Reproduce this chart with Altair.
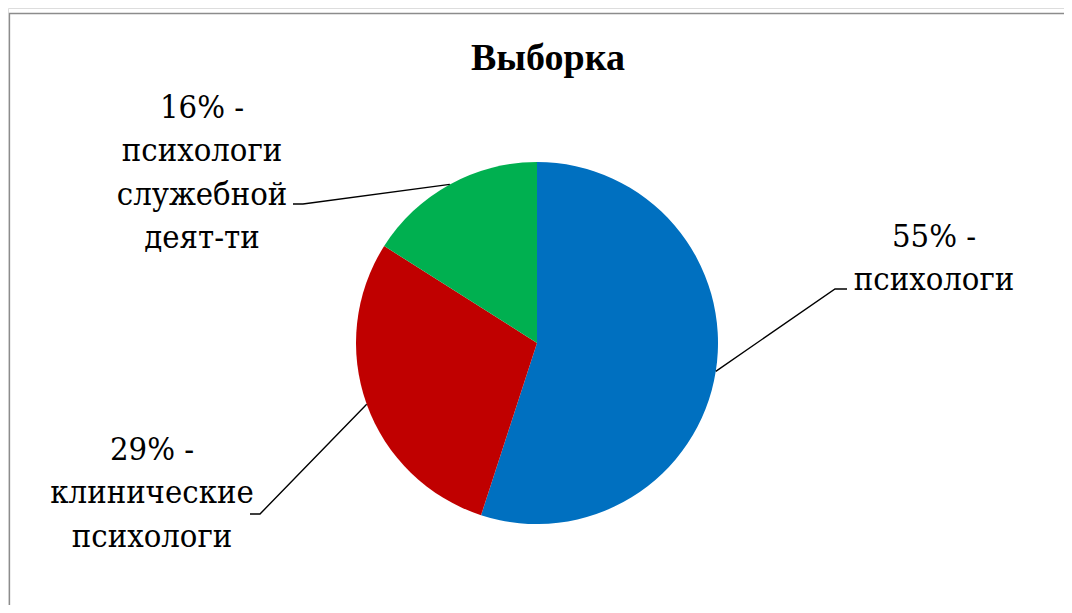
import altair as alt
import pandas as pd
import numpy as np

# ---- data ----
categories = ["психологи", "клинические психологи", "психологи служебной деят-ти"]
values = [55, 29, 16]
label_lines = [["психологи"], ["клинические", "психологи"], ["психологи", "служебной", "деят-ти"]]
colors = ["#0070C0", "#C00000", "#00B050"]
title_text = "Выборка"

# ---- layout (view pixels) ----
W, H = 1056, 597
CX, CY, R = 529, 335, 181
label_anchor = [(926, 239), (144, 452), (194, 110)]
LINE_H = 43.3
elbow = [(827, 281), (252, 506), (295, 196)]
line_end = [(839, 281), (242, 506), (285, 196)]
LABEL_FONT = "DejaVu Serif Condensed"
TITLE_FONT = "Liberation Serif"

df = pd.DataFrame({"cat": categories, "value": values, "idx": range(len(values))})

lab_rows = []
for i, (c, v, lines) in enumerate(zip(categories, values, label_lines)):
    all_lines = [f"{v}% -"] + lines
    for j, t in enumerate(all_lines):
        lab_rows.append({"cat": c, "t": t, "x": label_anchor[i][0], "y": label_anchor[i][1] + j * LINE_H})
lab_df = pd.DataFrame(lab_rows)

tot = sum(values)
cum = np.cumsum([0] + values)
rows = []
for i, c in enumerate(categories):
    mid = (cum[i] + cum[i + 1]) / 2 / tot * 2 * np.pi
    sx = CX + R * np.sin(mid)
    sy = CY - R * np.cos(mid)
    rows.append({"cat": c, "o": 0, "x": sx, "y": sy})
    rows.append({"cat": c, "o": 1, "x": elbow[i][0], "y": elbow[i][1]})
    rows.append({"cat": c, "o": 2, "x": line_end[i][0], "y": line_end[i][1]})
lines_df = pd.DataFrame(rows)

xs = alt.Scale(domain=[0, W], range=[0, W], nice=False, zero=False)
ys = alt.Scale(domain=[0, H], range=[0, H], nice=False, zero=False)

border = alt.Chart(pd.DataFrame({"a": [0]})).mark_rect(
    fill=None, stroke="#8c8c8c", strokeWidth=1.3, clip=True
).encode(x=alt.value(1.5), y=alt.value(5.5), x2=alt.value(W + 40), y2=alt.value(H + 40))

pie = alt.Chart(df).mark_arc(outerRadius=R, strokeWidth=0).encode(
    theta=alt.Theta("value:Q", stack=True),
    order=alt.Order("idx:Q"),
    color=alt.Color("cat:N", scale=alt.Scale(domain=categories, range=colors), legend=None),
    x=alt.value(CX),
    y=alt.value(CY),
)

leaders = alt.Chart(lines_df).mark_line(color="black", strokeWidth=1.4).encode(
    x=alt.X("x:Q", scale=xs, axis=None),
    y=alt.Y("y:Q", scale=ys, axis=None),
    detail="cat:N",
    order="o:Q",
)

labels = alt.Chart(lab_df).mark_text(
    font=LABEL_FONT, fontSize=32.5, align="center", baseline="alphabetic", color="black"
).encode(
    x=alt.X("x:Q", scale=xs, axis=None),
    y=alt.Y("y:Q", scale=ys, axis=None),
    text="t:N",
)

title = alt.Chart(pd.DataFrame({"t": [title_text], "x": [540], "y": [62]})).mark_text(
    font=TITLE_FONT, fontSize=38, fontWeight="bold", align="center", baseline="alphabetic", color="black"
).encode(
    x=alt.X("x:Q", scale=xs, axis=None),
    y=alt.Y("y:Q", scale=ys, axis=None),
    text="t:N",
)

chart = alt.layer(border, pie, leaders, labels, title).properties(
    width=W, height=H, padding=0
).configure_view(stroke=None).configure(background="white")

chart.save("out.html", embed_options={"renderer": "svg", "actions": False})
